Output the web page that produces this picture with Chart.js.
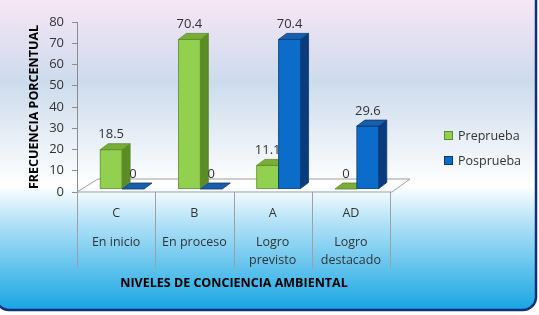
<!DOCTYPE html>
<html>
<head>
<meta charset="utf-8">
<title></title>
<style>
  html, body { margin: 0; padding: 0; background: #fff; }
</style>
</head>
<body>
<canvas id="myChart" width="539" height="315"></canvas>
<script src="https://cdn.jsdelivr.net/npm/chart.js@4/dist/chart.umd.min.js"></script>
<script>
const levels = ['C', 'B', 'A', 'AD'];
const levelNames = [['En inicio'], ['En proceso'], ['Logro', 'previsto'], ['Logro', 'destacado']];
const seriesNames = ['Preprueba', 'Posprueba'];
const pretest = [18.5, 70.4, 11.1, 0];
const posttest = [0, 0, 70.4, 29.6];
const yTicks = [0, 10, 20, 30, 40, 50, 60, 70, 80];
const xTitle = 'NIVELES DE CONCIENCIA AMBIENTAL';
const yTitle = 'FRECUENCIA PORCENTUAL';

const FONT = '"Open Sans", "Noto Sans", sans-serif';
const faces = [
  { front: '#92D050', side: '#5B8C25', top: '#78AD38', edge: '#5E8C28' },
  { front: '#0B6CCA', side: '#0A3C7C', top: '#1A5DAA', edge: '#083A78' }
];
// 3d depth of a bar and shift of the bars inside the floor
const DX = 8, DY = -6, SHIFT_X = 6, SHIFT_Y = -3;

function poly(ctx, pts, fill, stroke) {
  ctx.beginPath();
  ctx.moveTo(pts[0][0], pts[0][1]);
  for (let i = 1; i < pts.length; i++) ctx.lineTo(pts[i][0], pts[i][1]);
  ctx.closePath();
  ctx.fillStyle = fill;
  ctx.fill();
  if (stroke) { ctx.strokeStyle = stroke; ctx.lineWidth = 0.8; ctx.stroke(); }
}

const decor = {
  id: 'decor',
  beforeDraw(chart) {
    const ctx = chart.ctx;
    const W = chart.width, H = chart.height;
    ctx.save();
    ctx.fillStyle = '#fff';
    ctx.fillRect(0, 0, W, H);
    const g = ctx.createLinearGradient(0, 0, 0, H);
    g.addColorStop(0, '#F7E6F6');
    g.addColorStop(0.26, '#CCDBEC');
    g.addColorStop(0.59, '#FFFFFF');
    g.addColorStop(0.70, '#B6E3F8');
    g.addColorStop(1, '#0DA2E2');
    ctx.beginPath();
    ctx.roundRect(-4, -12, 540, 322, 13);
    ctx.fillStyle = g;
    ctx.fill();
    ctx.lineWidth = 2.5;
    ctx.strokeStyle = '#12307C';
    ctx.stroke();
    ctx.restore();
  },
  beforeDatasetsDraw(chart) {
    const ctx = chart.ctx;
    const a = chart.chartArea;
    const x = chart.scales.x;
    ctx.save();
    // floor
    ctx.strokeStyle = '#A0A0A0';
    ctx.lineWidth = 1;
    ctx.beginPath();
    ctx.moveTo(a.left, a.bottom);
    ctx.lineTo(a.right + 2, a.bottom);
    ctx.lineTo(a.right + 20, a.bottom - 13);
    ctx.lineTo(a.left + 21, a.bottom - 13);
    ctx.closePath();
    ctx.stroke();
    // category table
    const step = (a.right - a.left) / levels.length;
    ctx.beginPath();
    for (let i = 0; i <= levels.length; i++) {
      const lx = Math.round(a.left + i * step) + 0.5;
      ctx.moveTo(lx, a.bottom);
      ctx.lineTo(lx, 268);
    }
    ctx.stroke();
    ctx.fillStyle = '#333';
    ctx.textAlign = 'center';
    ctx.textBaseline = 'middle';
    ctx.font = '12.5px ' + FONT;
    levels.forEach((lv, i) => {
      const cx = x.getPixelForValue(i);
      ctx.fillText(lv, cx, 213);
      levelNames[i].forEach((t, j) => ctx.fillText(t, cx, 242 + j * 18));
    });
    ctx.fillStyle = '#000';
    ctx.font = 'bold 12.5px ' + FONT;
    ctx.fillText(xTitle, 234, 283);
    // legend
    ctx.font = '12.5px ' + FONT;
    ctx.textAlign = 'left';
    seriesNames.forEach((s, i) => {
      const ly = 136 + i * 25;
      ctx.fillStyle = faces[i].front;
      ctx.fillRect(444.5, ly - 4.5, 8, 8);
      ctx.strokeStyle = faces[i].edge;
      ctx.strokeRect(444.5, ly - 4.5, 8, 8);
      ctx.fillStyle = '#333';
      ctx.fillText(s, 458, ly);
    });

    // bars: drawn category by category so the right bar covers the left one
    ctx.translate(SHIFT_X, SHIFT_Y);
    const metas = chart.data.datasets.map((d, k) => chart.getDatasetMeta(k));
    levels.forEach((lv, i) => {
      metas.forEach((meta, k) => {
        const el = meta.data[i];
        const f = faces[k];
        const l = el.x - el.width / 2, r = el.x + el.width / 2;
        const t = el.y, b = el.base;
        if (b - t > 0.5) {
          el.draw(ctx);
          ctx.strokeStyle = f.edge;
          ctx.lineWidth = 0.8;
          ctx.strokeRect(l, t, r - l, b - t);
          poly(ctx, [[r, b], [r + DX, b + DY], [r + DX, t + DY], [r, t]], f.side, f.edge);
        }
        poly(ctx, [[l, t], [l + DX, t + DY], [r + DX, t + DY], [r, t]], f.top, f.edge);
        ctx.fillStyle = '#333';
        ctx.font = '13px ' + FONT;
        ctx.textAlign = 'center';
        ctx.textBaseline = 'middle';
        ctx.fillText(String(chart.data.datasets[k].data[i]), el.x, t - 15);
      });
    });
    ctx.restore();
    return false;
  }
};

new Chart(document.getElementById('myChart'), {
  type: 'bar',
  data: {
    labels: levels,
    datasets: [
      { label: seriesNames[0], data: pretest, backgroundColor: faces[0].front, borderWidth: 0 },
      { label: seriesNames[1], data: posttest, backgroundColor: faces[1].front, borderWidth: 0 }
    ]
  },
  options: {
    responsive: false,
    animation: false,
    devicePixelRatio: 1,
    layout: { padding: { left: 0, top: 22, right: 149, bottom: 123 } },
    datasets: { bar: { categoryPercentage: 0.56, barPercentage: 1 } },
    plugins: { legend: { display: false }, tooltip: { enabled: false } },
    scales: {
      x: { display: false },
      y: {
        min: 0, max: 80,
        afterBuildTicks: s => { s.ticks = yTicks.map(v => ({ value: v })); },
        afterFit: s => { s.width = 77; },
        grid: { drawOnChartArea: false, drawTicks: true, tickLength: 5, color: '#8C8C8C' },
        border: { display: true, color: '#8C8C8C' },
        ticks: { padding: 8, color: '#333', font: { family: FONT, size: 13 } },
        title: {
          display: true, text: yTitle, color: '#000',
          font: { family: FONT, size: 12.5, weight: 'bold' },
          padding: { top: 27, bottom: 0 }
        }
      }
    }
  },
  plugins: [decor]
});
</script>
</body>
</html>
